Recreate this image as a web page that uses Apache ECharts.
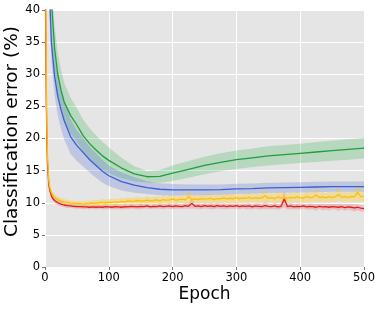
<!DOCTYPE html>
<html><head><meta charset="utf-8">
<script src="https://cdn.jsdelivr.net/npm/echarts@6/dist/echarts.min.js"></script>
<style>html,body{margin:0;padding:0;background:#fff}#c{width:381px;height:309px}</style>
</head><body><div id="c"></div>
<script>
// ---- data ----
const xTicks = [0, 100, 200, 300, 400, 500];
const yTicks = [0, 5, 10, 15, 20, 25, 30, 35, 40];

const epochsSmooth = [0,5,10,15,20,25,30,40,50,60,70,80,90,100,120,140,160,180,200,225,250,275,300,325,350,375,400,425,450,475,500];
const greenMean = [70,52,41.5,34,30,27.6,25.7,23.6,22.1,20.4,19.2,18.2,17.3,16.6,15.4,14.5,14.05,14.1,14.6,15.2,15.8,16.3,16.7,17.0,17.3,17.5,17.7,17.9,18.1,18.3,18.5];
const greenSpread = [4,4,4,3.6,3.4,3.2,3.0,2.8,2.6,2.5,2.4,2.3,2.2,2.0,1.6,1.2,0.9,1.0,1.2,1.3,1.35,1.4,1.45,1.45,1.5,1.5,1.5,1.55,1.55,1.6,1.6];
const blueMean = [70,48,35,29.7,26.6,24.5,22.8,20.3,18.9,17.8,16.7,15.8,14.9,14.2,13.3,12.75,12.35,12.1,12.0,12.0,12.0,12.05,12.15,12.2,12.3,12.35,12.4,12.45,12.5,12.5,12.5];
const blueSpread = [3,3,3,3,3,3,2.9,2.7,2.4,2.2,2.0,1.9,1.8,1.6,1.4,1.2,1.0,0.95,0.9,0.85,0.85,0.8,0.8,0.8,0.8,0.8,0.8,0.8,0.8,0.8,0.8];

const epochsFast = [0,1,2,3,4,6,8,10,12,15,
 20,25,30,35,40,45,50,55,60,65,
 70,75,80,85,90,95,100,105,110,115,
 120,125,130,135,140,145,150,155,160,165,
 170,175,180,185,190,195,200,205,210,215,
 220,225,230,235,240,245,250,255,260,265,
 270,275,280,285,290,295,300,305,310,315,
 320,325,330,335,340,345,350,355,360,365,
 370,375,380,385,390,395,400,405,410,415,
 420,425,430,435,440,445,450,455,460,465,
 470,475,480,485,490,495,500];
const yellowMean = [60,45,30,21,17,13.3,12.2,11.6,11.2,10.85,
 10.5,10.3,10.15,10.05,9.95,9.9,9.85,9.85,9.8,9.85,
 9.9,9.95,9.9,10.0,10.05,10.0,10.1,10.05,10.15,10.1,
 10.2,10.15,10.3,10.2,10.25,10.35,10.3,10.25,10.4,10.3,
 10.35,10.45,10.3,10.5,10.4,10.45,10.6,10.4,10.5,10.55,
 10.45,11.0,10.5,10.6,10.5,10.65,10.55,10.6,10.7,10.5,
 10.65,10.6,10.75,10.6,10.7,10.65,10.8,10.6,10.75,10.7,
 10.85,10.65,10.8,10.7,10.75,11.1,10.7,10.8,10.65,10.9,
 10.75,10.8,10.7,10.85,10.75,10.9,10.8,10.7,10.95,10.8,
 10.85,11.2,10.8,10.9,10.75,10.95,10.85,10.9,11.3,10.85,
 10.95,10.8,11.0,10.9,11.6,10.95,11.0];
const yellowSpread = [2,2,2,1.5,1,0.8,0.6,0.5,0.5,0.5,
 0.45,0.45,0.4,0.4,0.4,0.4,0.4,0.4,0.4,0.45,
 0.4,0.45,0.5,0.45,0.5,0.45,0.5,0.55,0.5,0.5,
 0.55,0.5,0.6,0.5,0.55,0.6,0.5,0.55,0.6,0.5,
 0.55,0.6,0.5,0.65,0.55,0.6,0.7,0.55,0.6,0.65,
 0.55,1.1,0.6,0.65,0.6,0.7,0.6,0.65,0.7,0.6,
 0.65,0.7,0.6,0.75,0.65,0.7,0.8,0.6,0.7,0.65,
 0.75,0.6,0.7,0.65,0.7,1.0,0.65,0.7,0.75,0.9,
 0.7,0.75,0.65,0.8,0.7,0.85,0.75,0.7,0.9,0.7,
 0.75,1.1,0.7,0.8,0.7,0.85,0.75,0.8,1.0,0.75,
 0.8,0.7,0.85,0.75,1.4,0.8,0.8];
const redMean = [50,38,26,19.5,16,12.8,11.8,11.1,10.7,10.35,
 10.0,9.8,9.65,9.55,9.5,9.45,9.4,9.4,9.35,9.35,
 9.3,9.35,9.3,9.35,9.3,9.4,9.35,9.3,9.4,9.35,
 9.3,9.4,9.35,9.45,9.4,9.35,9.45,9.4,9.5,9.35,
 9.45,9.4,9.5,9.4,9.45,9.5,9.4,9.5,9.45,9.4,
 9.55,9.45,9.9,9.45,9.5,9.4,9.55,9.45,9.5,9.4,
 9.55,9.45,9.5,9.4,9.5,9.45,9.55,9.4,9.5,9.45,
 9.5,9.35,9.5,9.45,9.4,9.55,9.45,9.4,9.5,9.35,
 9.45,10.6,9.4,9.5,9.35,9.45,9.4,9.5,9.35,9.45,
 9.4,9.3,9.45,9.35,9.4,9.3,9.4,9.35,9.3,9.4,
 9.25,9.35,9.3,9.2,9.3,9.15,9.1];
const redSpread = [2,2,2,1.5,1,0.7,0.5,0.4,0.4,0.4,
 0.4,0.35,0.35,0.35,0.3,0.3,0.35,0.3,0.35,0.3,
 0.35,0.3,0.35,0.3,0.35,0.4,0.35,0.3,0.4,0.35,
 0.35,0.4,0.35,0.4,0.35,0.4,0.45,0.35,0.4,0.35,
 0.4,0.35,0.45,0.4,0.35,0.45,0.4,0.45,0.4,0.35,
 0.45,0.4,0.8,0.4,0.45,0.4,0.45,0.4,0.5,0.4,
 0.45,0.4,0.5,0.4,0.45,0.4,0.5,0.45,0.4,0.45,
 0.5,0.4,0.45,0.5,0.4,0.55,0.45,0.4,0.5,0.45,
 0.4,1.3,0.45,0.5,0.4,0.45,0.5,0.4,0.45,0.5,
 0.45,0.5,0.4,0.55,0.45,0.5,0.4,0.45,0.55,0.45,
 0.5,0.45,0.5,0.55,0.45,0.5,0.45];

// ---- build series ----
function band(xs, mean, spread, color) {
  return {
    type: 'custom', clip: true, silent: true, z: 1,
    data: [0],
    renderItem: function (params, api) {
      const upper = xs.map((x, i) => api.coord([x, mean[i] + spread[i]]));
      const lower = xs.map((x, i) => api.coord([x, mean[i] - spread[i]])).reverse();
      const cs = params.coordSys;
      return {
        type: 'polygon',
        shape: { points: upper.concat(lower) },
        style: { fill: color },
        clipPath: { type: 'rect', shape: { x: cs.x, y: cs.y, width: cs.width, height: cs.height } }
      };
    }
  };
}
function line(name, xs, mean, color) {
  return { type: 'line', name: name, data: xs.map((x, i) => [x, mean[i]]), symbol: 'none',
    lineStyle: { color: color, width: 1.3 }, z: 3 };
}

const series = [
  band(epochsSmooth, greenMean, greenSpread, 'rgba(40,170,70,0.24)'),
  band(epochsSmooth, blueMean, blueSpread, 'rgba(60,90,220,0.22)'),
  band(epochsFast, redMean, redSpread, 'rgba(230,40,40,0.2)'),
  band(epochsFast, yellowMean, yellowSpread, 'rgba(255,195,0,0.3)'),
  line('green', epochsSmooth, greenMean, '#1e9e3c'),
  line('blue', epochsSmooth, blueMean, '#3a5fd0'),
  line('red', epochsFast, redMean, '#e41a1c'),
  line('yellow', epochsFast, yellowMean, '#ffbf00')
];

const chart = echarts.init(document.getElementById('c'), null, { renderer: 'canvas' });
const font = 'DejaVu Sans';
chart.setOption({
  animation: false,
  backgroundColor: '#ffffff',
  grid: { left: 45, right: 17, top: 10, bottom: 42, show: true, backgroundColor: '#e5e5e5', borderWidth: 0,
          containLabel: false, outerBoundsMode: 'none' },
  xAxis: {
    type: 'value', min: xTicks[0], max: xTicks[xTicks.length - 1], interval: 100,
    name: 'Epoch', nameLocation: 'middle', nameGap: 19, nameMoveOverlap: false,
    nameTextStyle: { fontFamily: font, fontSize: 17, color: '#000', verticalAlign: 'top' },
    axisLine: { show: false },
    axisTick: { show: true, length: 3, lineStyle: { color: '#777' } },
    axisLabel: { fontFamily: font, fontSize: 11.5, color: '#000', margin: 5 },
    splitLine: { show: true, lineStyle: { color: '#ffffff', width: 1 } }
  },
  yAxis: {
    type: 'value', min: yTicks[0], max: yTicks[yTicks.length - 1], interval: 5,
    name: 'Classification error (%)', nameLocation: 'middle', nameGap: 23, nameMoveOverlap: false,
    nameTextStyle: { fontFamily: font, fontSize: 18.5, color: '#000', padding: [0, 0, 0, 14] },
    axisLine: { show: false },
    axisTick: { show: true, length: 3, lineStyle: { color: '#777' } },
    axisLabel: { fontFamily: font, fontSize: 11.5, color: '#000', margin: 5 },
    splitLine: { show: true, lineStyle: { color: '#ffffff', width: 1 } }
  },
  series: series
});
</script>
</body></html>
